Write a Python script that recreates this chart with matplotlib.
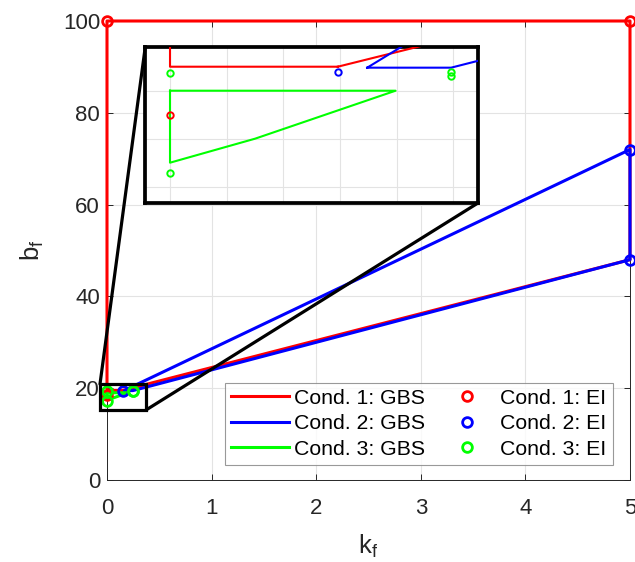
import matplotlib
matplotlib.use('Agg')
import matplotlib.pyplot as plt
from matplotlib.patches import Rectangle, ConnectionPatch

plt.rcParams['font.family'] = ['Liberation Sans', 'DejaVu Sans']
plt.rcParams['mathtext.default'] = 'regular'

# ---- data: GBS boundaries (kf, bf) ----
gbs1_kf = [0.148, 0.0, 0.0, 5.0, 5.0, 0.148]
gbs1_bf = [19.50, 19.50, 100.0, 100.0, 48.0, 19.50]
gbs2_kf = [0.174, 0.248, 5.0, 5.0, 0.21, 0.174]
gbs2_bf = [19.48, 19.48, 48.0, 72.0, 20.0, 19.48]
gbs3_kf = [0.0, 0.199, 0.075, 0.0, 0.0]
gbs3_bf = [19.0, 19.0, 18.0, 17.5, 19.0]

# ---- data: EI points ----
ei1_kf = [0.0, 5.0, 0.0]
ei1_bf = [100.0, 100.0, 18.49]
ei2_kf = [5.0, 5.0, 0.1485]
ei2_bf = [72.0, 48.0, 19.38]
ei3_kf = [0.0, 0.0, 0.248, 0.248]
ei3_bf = [19.36, 17.29, 19.38, 19.30]

labels_gbs = ['Cond. 1: GBS', 'Cond. 2: GBS', 'Cond. 3: GBS']
labels_ei = ['Cond. 1: EI', 'Cond. 2: EI', 'Cond. 3: EI']
colors = ['#ff0000', '#0000ff', '#00ff00']

x_ticks = [0, 1, 2, 3, 4, 5]
y_ticks = [0, 20, 40, 60, 80, 100]

W, H = 635, 562
fig = plt.figure(figsize=(W / 100, H / 100), dpi=100)
ax = fig.add_axes([107 / W, (H - 480) / H, 523 / W, 459 / H])

gbs = [(gbs1_kf, gbs1_bf), (gbs2_kf, gbs2_bf), (gbs3_kf, gbs3_bf)]
ei = [(ei1_kf, ei1_bf), (ei2_kf, ei2_bf), (ei3_kf, ei3_bf)]

for (k, b), c, lab in zip(gbs, colors, labels_gbs):
    ax.plot(k, b, '-', color=c, lw=2.2, label=lab, clip_on=False, zorder=3)
for (k, b), c, lab in zip(ei, colors, labels_ei):
    ax.plot(k, b, 'o', color=c, mfc='none', ms=7, mew=2.0, ls='none',
            label=lab, clip_on=False, zorder=4)

ax.set_xlim(0, 5)
ax.set_ylim(0, 100)
ax.set_xticks(x_ticks)
ax.set_yticks(y_ticks)
ax.grid(True, color='#e3e3e3', lw=0.8)
ax.set_axisbelow(True)
for s in ax.spines.values():
    s.set_color('#262626')
    s.set_linewidth(0.7)
ax.tick_params(direction='in', top=True, right=True, length=4, width=0.7,
               color='#262626', labelcolor='#262626', labelsize=16)
ax.tick_params(axis='x', pad=13)
ax.tick_params(axis='y', pad=5)
ax.set_xlabel('$k_f$', fontsize=18.5, color='#262626', labelpad=10)
ax.set_ylabel('$b_f$', fontsize=18.5, color='#262626', labelpad=12)

leg = ax.legend(ncol=2, loc='lower right',
                bbox_to_anchor=(613 / W, (H - 465) / H),
                bbox_transform=fig.transFigure, borderaxespad=0,
                fontsize=15.3, frameon=True, fancybox=False,
                edgecolor='#808080', handlelength=2.7, handletextpad=0.25,
                columnspacing=0.6, labelspacing=0.3, borderpad=0.3)
leg.get_frame().set_linewidth(0.8)
leg.set_zorder(10)

# zoom rectangle in main axes
rx0, rx1, ry0, ry1 = -0.067, 0.373, 15.25, 20.9
rect = Rectangle((rx0, ry0), rx1 - rx0, ry1 - ry0, fill=False, ec='k',
                 lw=2.3, clip_on=False, zorder=6)
ax.add_patch(rect)

# inset axes
ax2 = fig.add_axes([145.3 / W, (H - 203.3) / H, 332.2 / W, 156.6 / H])
for (k, b), c in zip(gbs, colors):
    ax2.plot(k, b, '-', color=c, lw=1.5, zorder=3)
for (k, b), c in zip(ei, colors):
    ax2.plot(k, b, 'o', color=c, mfc='none', ms=4.6, mew=1.4, ls='none', zorder=4)
ax2.set_xlim(-0.0218, 0.2713)
ax2.set_ylim(16.654, 19.917)
ax2.set_xticks([0, 0.05, 0.10, 0.15, 0.20, 0.25])
ax2.set_yticks([17, 18, 19])
ax2.grid(True, color='#e3e3e3', lw=0.8)
ax2.set_axisbelow(True)
ax2.tick_params(length=0, labelbottom=False, labelleft=False)
for s in ax2.spines.values():
    s.set_color('k')
    s.set_linewidth(2.7)

con1 = ConnectionPatch(xyA=(rx0, ry1), coordsA=ax.transData,
                       xyB=(0, 1), coordsB=ax2.transAxes, color='k', lw=2.3)
con2 = ConnectionPatch(xyA=(rx1, ry0), coordsA=ax.transData,
                       xyB=(1, 0), coordsB=ax2.transAxes, color='k', lw=2.3)
fig.add_artist(con1)
fig.add_artist(con2)

fig.savefig('out.png', dpi=100)
